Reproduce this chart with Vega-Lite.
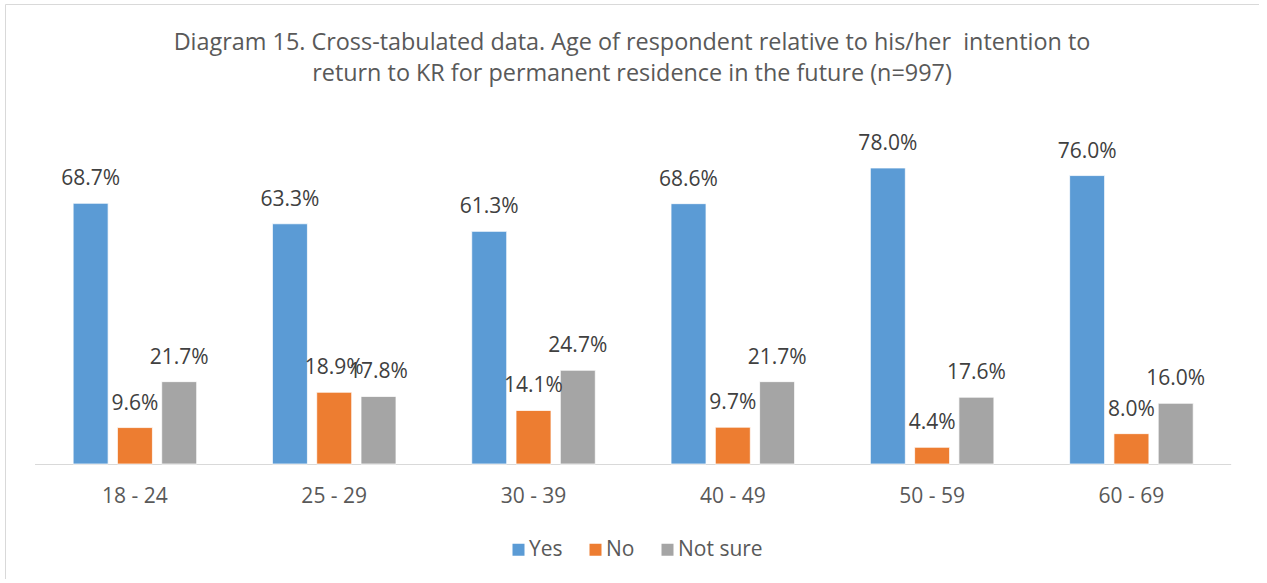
{
  "$schema": "https://vega.github.io/schema/vega-lite/v6.json",
  "autosize": {"type": "none"},
  "padding": {"left": 5, "top": 4, "right": 0, "bottom": 0},
  "width": 1254,
  "height": 575,
  "background": "white",
  "title": {
    "text": ["Diagram 15. Cross-tabulated data. Age of respondent relative to his/her \u00a0intention to", "return to KR for permanent residence in the future (n=997)"],
    "font": "Open Sans",
    "fontSize": 23.4,
    "fontWeight": "normal",
    "color": "#595959",
    "anchor": "middle",
    "frame": "group",
    "lineHeight": 31,
    "offset": -82
  },
  "data": {
    "values": [
      {"age": "18 - 24", "resp": "Yes", "v": 0.687},
      {"age": "18 - 24", "resp": "No", "v": 0.096},
      {"age": "18 - 24", "resp": "Not sure", "v": 0.217},
      {"age": "25 - 29", "resp": "Yes", "v": 0.633},
      {"age": "25 - 29", "resp": "No", "v": 0.189},
      {"age": "25 - 29", "resp": "Not sure", "v": 0.178},
      {"age": "30 - 39", "resp": "Yes", "v": 0.613},
      {"age": "30 - 39", "resp": "No", "v": 0.141},
      {"age": "30 - 39", "resp": "Not sure", "v": 0.247},
      {"age": "40 - 49", "resp": "Yes", "v": 0.686},
      {"age": "40 - 49", "resp": "No", "v": 0.097},
      {"age": "40 - 49", "resp": "Not sure", "v": 0.217},
      {"age": "50 - 59", "resp": "Yes", "v": 0.780},
      {"age": "50 - 59", "resp": "No", "v": 0.044},
      {"age": "50 - 59", "resp": "Not sure", "v": 0.176},
      {"age": "60 - 69", "resp": "Yes", "v": 0.760},
      {"age": "60 - 69", "resp": "No", "v": 0.080},
      {"age": "60 - 69", "resp": "Not sure", "v": 0.160}
    ]
  },
  "encoding": {
    "x": {
      "field": "age",
      "type": "nominal",
      "sort": null,
      "scale": {"paddingInner": 0, "paddingOuter": 0.146, "align": 0.52},
      "axis": {
        "title": null,
        "orient": "bottom",
        "offset": -115,
        "domain": false,
        "ticks": false,
        "grid": false,
        "labelAngle": 0,
        "labelFont": "Open Sans",
        "labelFontSize": 21,
        "labelColor": "#595959",
        "labelPadding": 21
      }
    }
  },
  "layer": [
    {
      "mark": {"type": "rect", "color": "#d9d9d9"},
      "encoding": {
        "y": {"datum": 0, "type": "quantitative", "scale": {"domain": [-0.303, 1.2121], "nice": false, "zero": false}, "axis": null},
        "y2": {"datum": -0.0027}
      }
    },
    {
      "mark": {"type": "bar", "stroke": "white", "strokeWidth": 0.75},
      "encoding": {
        "xOffset": {"field": "resp", "type": "nominal", "sort": ["Yes", "No", "Not sure"], "scale": {"paddingInner": 0.21, "paddingOuter": 0.855}},
        "y": {"field": "v", "type": "quantitative", "axis": null},
        "color": {
          "field": "resp",
          "type": "nominal",
          "sort": ["Yes", "No", "Not sure"],
          "scale": {"domain": ["Yes", "No", "Not sure"], "range": ["#5b9bd5", "#ed7d31", "#a5a5a5"]},
          "legend": {
            "title": null,
            "orient": "none",
            "legendX": 503,
            "legendY": 535,
            "direction": "horizontal",
            "symbolType": "square",
            "symbolSize": 144,
            "symbolStrokeWidth": 0,
            "symbolOpacity": 1,
            "labelFont": "Open Sans",
            "labelFontSize": 21,
            "labelColor": "#595959",
            "labelOffset": 0,
            "columnPadding": 22
          }
        }
      }
    },
    {
      "mark": {"type": "text", "font": "Open Sans", "fontSize": 21, "color": "#404040", "baseline": "alphabetic", "dy": -18},
      "encoding": {
        "xOffset": {"field": "resp", "type": "nominal", "sort": ["Yes", "No", "Not sure"]},
        "y": {"field": "v", "type": "quantitative"},
        "text": {"field": "v", "type": "quantitative", "format": ".1%"}
      }
    }
  ],
  "config": {
    "view": {"stroke": "#d9d9d9", "strokeWidth": 1}
  }
}
